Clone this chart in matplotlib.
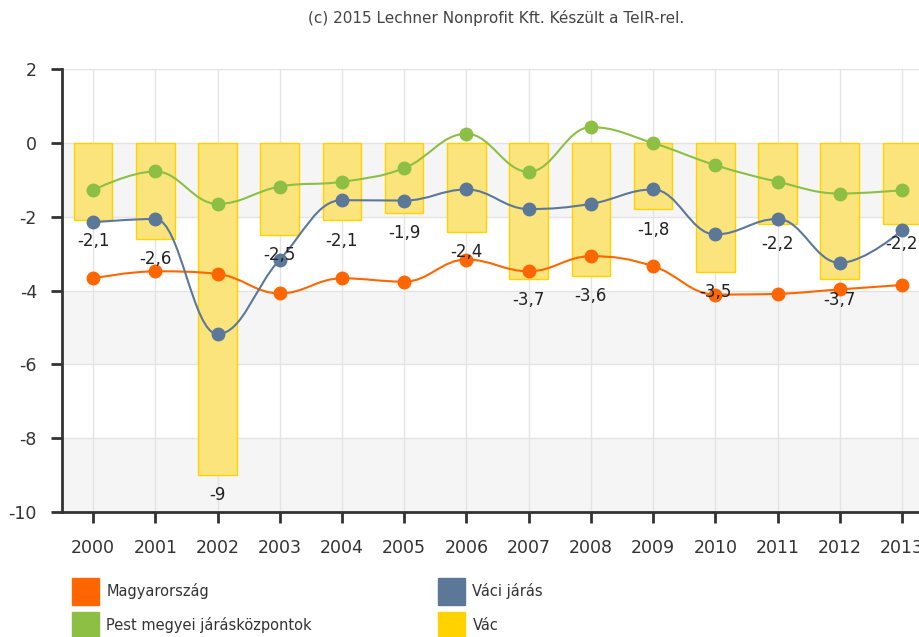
import matplotlib
matplotlib.use('Agg')
import matplotlib.pyplot as plt
from matplotlib.path import Path
from matplotlib.patches import PathPatch, Patch

plt.rcParams['axes.unicode_minus'] = False

years = list(range(2000, 2014))
vac = [-2.1, -2.6, -9, -2.5, -2.1, -1.9, -2.4, -3.7, -3.6, -1.8, -3.5, -2.2, -3.7, -2.2]
magyarorszag = [-3.67, -3.48, -3.55, -4.08, -3.67, -3.76, -3.16, -3.48, -3.07, -3.34, -4.11, -4.09, -3.97, -3.85]
pest_megyei = [-1.28, -0.77, -1.65, -1.18, -1.05, -0.68, 0.25, -0.78, 0.43, 0.0, -0.60, -1.05, -1.37, -1.28]
vaci_jaras = [-2.15, -2.06, -5.18, -3.16, -1.55, -1.56, -1.26, -1.79, -1.65, -1.26, -2.48, -2.06, -3.25, -2.37]

col_orange = '#ff6600'
col_green = '#8dbf45'
col_blue = '#5c7899'
col_gold = '#ffd200'


def spline_path(xs, ys):
    # highcharts-like spline (smoothing 1.5)
    sm = 1.5
    den = sm + 1
    n = len(xs)
    left = [None] * n
    right = [None] * n
    for i in range(n):
        x, y = xs[i], ys[i]
        if i == 0 or i == n - 1:
            left[i] = (x, y)
            right[i] = (x, y)
            continue
        lx, ly = xs[i - 1], ys[i - 1]
        nx, ny = xs[i + 1], ys[i + 1]
        lcx = (sm * x + lx) / den
        lcy = (sm * y + ly) / den
        rcx = (sm * x + nx) / den
        rcy = (sm * y + ny) / den
        corr = (rcy - lcy) * (rcx - x) / (rcx - lcx) + y - rcy
        lcy += corr
        rcy += corr
        if lcy > ly and lcy > y:
            lcy = max(ly, y)
            rcy = 2 * y - lcy
        elif lcy < ly and lcy < y:
            lcy = min(ly, y)
            rcy = 2 * y - lcy
        if rcy > ny and rcy > y:
            rcy = max(ny, y)
            lcy = 2 * y - rcy
        elif rcy < ny and rcy < y:
            rcy = min(ny, y)
            lcy = 2 * y - rcy
        left[i] = (lcx, lcy)
        right[i] = (rcx, rcy)
    verts = [(xs[0], ys[0])]
    codes = [Path.MOVETO]
    for i in range(1, n):
        verts += [right[i - 1], left[i], (xs[i], ys[i])]
        codes += [Path.CURVE4] * 3
    return Path(verts, codes)


fig = plt.figure(figsize=(9.2, 6.37), dpi=100)
ax = fig.add_axes([62 / 920, 1 - 511.7 / 637, 1 - 62 / 920, (511.7 - 69.3) / 637])

# alternating bands
for lo, hi in [(-2, 0), (-6, -4), (-10, -8)]:
    ax.axhspan(lo, hi, color='#f5f5f5', zorder=0, lw=0)

ax.set_axisbelow(True)
ax.grid(True, color='#e4e4e4', lw=1)

ax.bar(years, vac, width=0.62, color='#fbe47c', edgecolor=col_gold, lw=1, zorder=2)
for x, v in zip(years, vac):
    ax.text(x, v - 0.55, f'{v:g}'.replace('.', ','), ha='center', va='center',
            fontsize=12, color='#222222', zorder=6)

for vals, c in [(magyarorszag, col_orange), (pest_megyei, col_green), (vaci_jaras, col_blue)]:
    ax.add_patch(PathPatch(spline_path(years, vals), fill=False, edgecolor=c, lw=1.5, zorder=3))
    ax.plot(years, vals, 'o', color=c, ms=9, zorder=4)

ax.set_xlim(1999.5, 2013.29)
ax.set_ylim(-10, 2)
ax.set_xticks(years)
ax.set_yticks(range(-10, 3, 2))
ax.tick_params(axis='both', direction='out', length=8, width=2, colors='#333333', labelsize=12.5)
ax.tick_params(axis='x', pad=12)
ax.tick_params(axis='y', pad=10)
for s in ['top', 'right']:
    ax.spines[s].set_visible(False)
for s in ['left', 'bottom']:
    ax.spines[s].set_color('#333333')
    ax.spines[s].set_linewidth(2)

fig.text(496 / 920, 1 - 18 / 637, '(c) 2015 Lechner Nonprofit Kft. Készült a TeIR-rel.',
         ha='center', va='center', fontsize=11, color='#444444')

handles = [Patch(color=col_orange), Patch(color=col_green),
           Patch(color=col_blue), Patch(color=col_gold)]
labels = ['Magyarország', 'Pest megyei járásközpontok', 'Váci járás', 'Vác']
fig.legend(handles, labels, ncol=2, loc='upper left', bbox_to_anchor=(59 / 920, 1 - 565 / 637),
           frameon=False, fontsize=10.5, labelcolor='#333333', handlelength=1.85, handleheight=2.5,
           handletextpad=0.5, labelspacing=0.45, columnspacing=8.65)

fig.savefig('out.png', dpi=100)
